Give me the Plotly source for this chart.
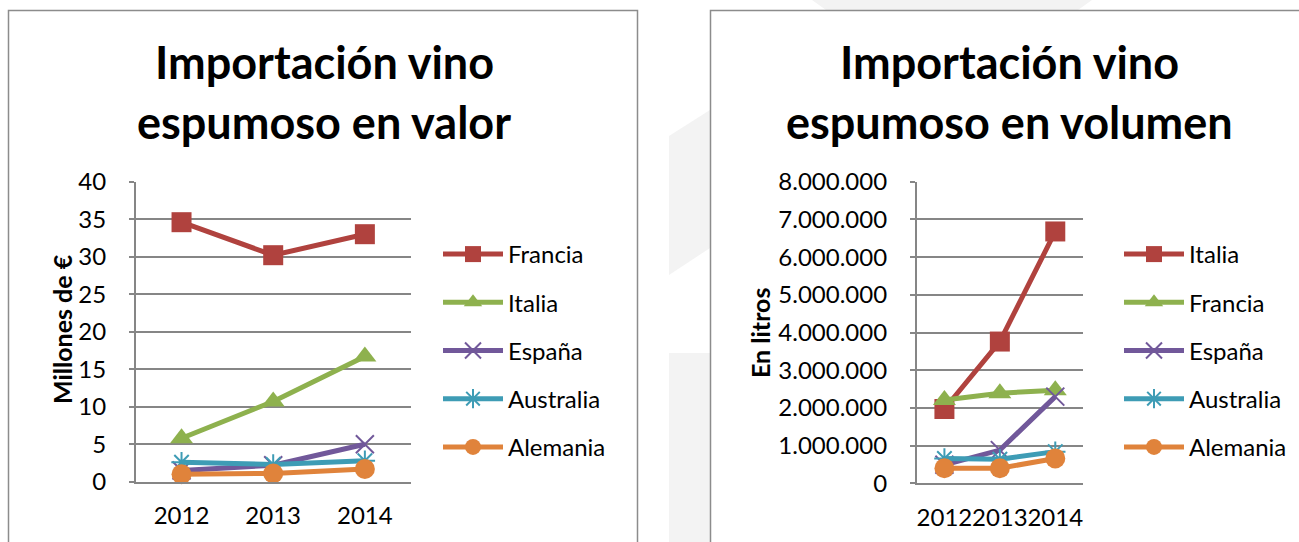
import plotly.graph_objects as go

W, H = 1299, 542

years = ["2012", "2013", "2014"]

# Import value, millions of euros
valor_series = ["Francia", "Italia", "España", "Australia", "Alemania"]
valor_francia = [34.6, 30.2, 33.0]
valor_italia = [5.8, 10.7, 16.7]
valor_espana = [1.5, 2.2, 5.0]
valor_australia = [2.6, 2.3, 2.8]
valor_alemania = [1.0, 1.1, 1.7]

# Import volume, litres
volumen_series = ["Italia", "Francia", "España", "Australia", "Alemania"]
volumen_italia = [1970000, 3760000, 6680000]
volumen_francia = [2210000, 2390000, 2470000]
volumen_espana = [490000, 880000, 2300000]
volumen_australia = [660000, 640000, 840000]
volumen_alemania = [400000, 400000, 660000]

valor_data = [valor_francia, valor_italia, valor_espana, valor_australia, valor_alemania]
volumen_data = [volumen_italia, volumen_francia, volumen_espana, volumen_australia, volumen_alemania]

# Marker/colour style per legend position
styles = [
    dict(color="#B0423E", symbol="square", size=20, open=False),
    dict(color="#8EB14E", symbol="triangle-up", size=20, open=False),
    dict(color="#71589A", symbol="x-thin-open", size=18, open=True),
    dict(color="#3E9CB5", symbol="asterisk-open", size=17, open=True),
    dict(color="#E0833B", symbol="circle", size=20, open=False),
]

FONT = "Lato"
GRID = "#868686"


def px_x(p):
    return p / W


def px_y(p):
    return 1 - p / H


fig = go.Figure()


def add_series(names, data, xa, ya, legend):
    for name, vals, st in zip(names, data, styles):
        marker = dict(symbol=st["symbol"], size=st["size"], color=st["color"])
        if st["open"]:
            marker["line"] = dict(color=st["color"], width=2)
        else:
            marker["line"] = dict(width=0)
        fig.add_trace(go.Scatter(
            x=years, y=vals, name=name, mode="lines+markers",
            line=dict(color=st["color"], width=5),
            marker=marker, xaxis=xa, yaxis=ya, legend=legend,
            legendgroup=legend + name, cliponaxis=False,
        ))


add_series(valor_series, valor_data, "x", "y", "legend")
add_series(volumen_series, volumen_data, "x2", "y2", "legend2")

axis_common = dict(
    showline=True, linecolor=GRID, linewidth=1.5, mirror=False,
    tickfont=dict(family=FONT, size=24, color="#000000"),
    zeroline=False, automargin=False,
)

xaxis_common = dict(axis_common, type="category", range=[-0.5, 2.5],
                    showgrid=False, tickangle=0, ticks="", ticklabelstandoff=12)

yaxis_common = dict(axis_common, showgrid=True, gridcolor=GRID, gridwidth=1.5,
                    ticks="outside", ticklen=5, tickcolor=GRID, tickwidth=1.5,
                    ticklabelstandoff=18)

legend_common = dict(xanchor="left", yanchor="top",
                     font=dict(family=FONT, size=24, color="#000000"),
                     itemwidth=60, tracegroupgap=14, bgcolor="rgba(0,0,0,0)")

fig.update_layout(
    width=W, height=H,
    margin=dict(l=0, r=0, t=0, b=0, pad=0, autoexpand=False),
    paper_bgcolor="white", plot_bgcolor="white",
    separators=",.",
    xaxis=dict(xaxis_common, domain=[px_x(135.7), px_x(410.7)], anchor="y"),
    yaxis=dict(yaxis_common, domain=[px_y(481.7), px_y(181.7)], anchor="x",
               range=[0, 40], dtick=5),
    xaxis2=dict(xaxis_common, domain=[px_x(916.7), px_x(1083)], anchor="y2"),
    yaxis2=dict(yaxis_common, domain=[px_y(483.3), px_y(181.7)], anchor="x2",
                range=[0, 8000000], dtick=1000000, tickformat=",d"),
    legend=dict(legend_common, x=px_x(438), y=px_y(232)),
    legend2=dict(legend_common, x=px_x(1119), y=px_y(232)),
    showlegend=True,
)

# Faint background decoration and the two chart frames
shapes = [
    dict(type="path", xref="paper", yref="paper", layer="below",
         path="M {} {} L {} {} L {} {} L {} {} Z".format(
             px_x(669), px_y(136), px_x(710), px_y(110),
             px_x(710), px_y(248), px_x(669), px_y(275)),
         fillcolor="#F3F3F3", line=dict(width=0)),
    dict(type="rect", xref="paper", yref="paper", layer="below",
         x0=px_x(669), x1=px_x(710), y0=0, y1=px_y(353),
         fillcolor="#F3F3F3", line=dict(width=0)),
    dict(type="path", xref="paper", yref="paper", layer="below",
         path="M {} {} L {} {} L {} {} L {} {} Z".format(
             px_x(812), 1.0, px_x(1092), 1.0,
             px_x(1078), px_y(10), px_x(826), px_y(10)),
         fillcolor="#F3F3F3", line=dict(width=0)),
    dict(type="rect", xref="paper", yref="paper", layer="below",
         x0=px_x(8.5), x1=px_x(637.5), y0=px_y(560), y1=px_y(10.5),
         fillcolor="white", line=dict(color="#8C8C8C", width=1.5)),
    dict(type="rect", xref="paper", yref="paper", layer="below",
         x0=px_x(710.5), x1=px_x(1320), y0=px_y(560), y1=px_y(10.5),
         fillcolor="white", line=dict(color="#8C8C8C", width=1.5)),
]
fig.update_layout(shapes=shapes)

title_font = dict(family=FONT, size=45, color="#000000", weight="bold")
axis_title_font = dict(family=FONT, size=25, color="#000000", weight="bold")

annotations = [
    dict(text="Importación vino", x=px_x(324), y=px_y(62)),
    dict(text="espumoso en valor", x=px_x(324), y=px_y(122)),
    dict(text="Importación vino", x=px_x(1009.5), y=px_y(62)),
    dict(text="espumoso en volumen", x=px_x(1009.5), y=px_y(122)),
]
for a in annotations:
    fig.add_annotation(xref="paper", yref="paper", showarrow=False,
                       xanchor="center", yanchor="middle", font=title_font, **a)

fig.add_annotation(text="Millones de €", x=px_x(62), y=px_y(329), xref="paper", yref="paper",
                   showarrow=False, textangle=-90, font=axis_title_font,
                   xanchor="center", yanchor="middle")
fig.add_annotation(text="En litros", x=px_x(760), y=px_y(333), xref="paper", yref="paper",
                   showarrow=False, textangle=-90, font=axis_title_font,
                   xanchor="center", yanchor="middle")

fig.write_html("out.html")
